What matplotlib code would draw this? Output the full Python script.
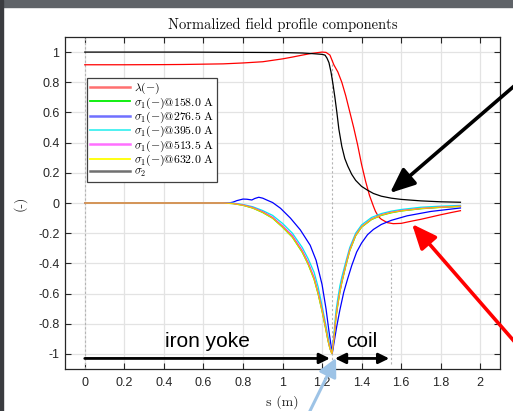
import matplotlib
matplotlib.use('Agg')
import matplotlib.pyplot as plt
from matplotlib.patches import Rectangle, FancyArrowPatch

# ---------------- data ----------------
s_lambda = [0, 0.2, 0.4, 0.5, 0.6, 0.7, 0.8, 0.9, 1.0, 1.05, 1.1, 1.15, 1.2, 1.22,
            1.24, 1.26, 1.28, 1.3, 1.32, 1.34, 1.36, 1.38, 1.4, 1.42, 1.44, 1.46,
            1.47, 1.48, 1.49, 1.5, 1.53, 1.56, 1.6, 1.65, 1.7, 1.75, 1.8, 1.85, 1.9]
lam = [0.916, 0.916, 0.917, 0.918, 0.92, 0.922, 0.928, 0.936, 0.955, 0.967, 0.98,
       0.992, 1.0, 0.998, 0.98, 0.915, 0.868, 0.8, 0.71, 0.605, 0.5, 0.385, 0.255,
       0.145, 0.05, -0.022, -0.055, -0.078, -0.096, -0.108, -0.13, -0.137, -0.135,
       -0.121, -0.108, -0.093, -0.078, -0.064, -0.051]

s_sigma1 = [0, 0.6, 0.7, 0.75, 0.8, 0.85, 0.9, 0.95, 1.0, 1.05, 1.1, 1.13, 1.16,
            1.18, 1.2, 1.215, 1.23, 1.24, 1.25, 1.26, 1.27, 1.28, 1.29, 1.3, 1.32,
            1.34, 1.37, 1.4, 1.45, 1.5, 1.55, 1.6, 1.7, 1.8, 1.9]
sig1_158 = [0, 0, 0, -0.004, -0.015, -0.034, -0.063, -0.101, -0.16, -0.227, -0.327,
            -0.407, -0.507, -0.602, -0.717, -0.812, -0.912, -0.966, -0.998, -0.902,
            -0.762, -0.672, -0.592, -0.527, -0.417, -0.317, -0.217, -0.16, -0.11,
            -0.082, -0.065, -0.053, -0.038, -0.029, -0.023]
sig1_395 = [0, 0, 0, -0.001, -0.01, -0.025, -0.05, -0.082, -0.135, -0.2, -0.295,
            -0.37, -0.46, -0.555, -0.68, -0.78, -0.88, -0.955, -0.995, -0.87,
            -0.72, -0.63, -0.55, -0.49, -0.39, -0.295, -0.2, -0.145, -0.096,
            -0.07, -0.054, -0.043, -0.028, -0.021, -0.016]
sig1_513 = [0, 0, 0, -0.003, -0.013, -0.03, -0.058, -0.095, -0.152, -0.217, -0.316,
            -0.395, -0.495, -0.59, -0.705, -0.8, -0.905, -0.962, -0.997, -0.895,
            -0.755, -0.665, -0.585, -0.52, -0.41, -0.31, -0.212, -0.156, -0.106,
            -0.078, -0.061, -0.05, -0.036, -0.027, -0.021]
sig1_632 = [0, 0, 0, -0.004, -0.015, -0.033, -0.062, -0.1, -0.158, -0.225, -0.325,
            -0.405, -0.505, -0.6, -0.715, -0.81, -0.91, -0.965, -0.998, -0.9,
            -0.76, -0.67, -0.59, -0.525, -0.415, -0.315, -0.215, -0.158, -0.108,
            -0.08, -0.063, -0.052, -0.037, -0.028, -0.022]

s_blue = [0, 0.6, 0.7, 0.73, 0.75, 0.77, 0.8, 0.82, 0.845, 0.86, 0.88, 0.9, 0.92,
          0.95, 0.99, 1.04, 1.09, 1.14, 1.17, 1.2, 1.22, 1.235, 1.245, 1.252, 1.26,
          1.274, 1.29, 1.31, 1.33, 1.35, 1.375, 1.4, 1.43, 1.46, 1.5, 1.55, 1.63,
          1.75, 1.9]
sig1_276 = [0, 0, 0, 0, 0.006, 0.016, 0.026, 0.025, 0.02, 0.03, 0.038, 0.032, 0.02,
            0.003, -0.035, -0.1, -0.178, -0.28, -0.38, -0.54, -0.70, -0.85, -0.94,
            -0.995, -0.93, -0.82, -0.71, -0.59, -0.5, -0.415, -0.325, -0.265, -0.21,
            -0.175, -0.142, -0.115, -0.085, -0.056, -0.033]

s_sigma2 = [0, 0.5, 1.0, 1.1, 1.15, 1.2, 1.215, 1.225, 1.235, 1.245, 1.255, 1.265,
            1.275, 1.285, 1.3, 1.315, 1.33, 1.35, 1.37, 1.4, 1.43, 1.46, 1.5, 1.55,
            1.6, 1.7, 1.8, 1.9]
sig2 = [1.0, 1.0, 0.997, 0.994, 0.99, 0.985, 0.98, 0.96, 0.93, 0.87, 0.79, 0.70,
        0.6, 0.49, 0.375, 0.295, 0.245, 0.19, 0.15, 0.11, 0.085, 0.063, 0.045, 0.032,
        0.024, 0.014, 0.008, 0.005]

labels = [r'$\lambda(-)$', r'$\sigma_1(-)$@158.0 A', r'$\sigma_1(-)$@276.5 A',
          r'$\sigma_1(-)$@395.0 A', r'$\sigma_1(-)$@513.5 A', r'$\sigma_1(-)$@632.0 A',
          r'$\sigma_2$']

xticks = [0, 0.2, 0.4, 0.6, 0.8, 1.0, 1.2, 1.4, 1.6, 1.8, 2.0]
xticklabels = ['0', '0.2', '0.4', '0.6', '0.8', '1', '1.2', '1.4', '1.6', '1.8', '2']
yticks = [-1, -0.8, -0.6, -0.4, -0.2, 0, 0.2, 0.4, 0.6, 0.8, 1]
yticklabels = ['-1', '-0.8', '-0.6', '-0.4', '-0.2', '0', '0.2', '0.4', '0.6', '0.8', '1']

# ---------------- style ----------------
plt.rcParams['mathtext.fontset'] = 'cm'
plt.rcParams['axes.unicode_minus'] = False
plt.rcParams['font.family'] = ['Liberation Sans', 'DejaVu Sans']
SERIF = ['cmr10', 'DejaVu Serif']
AXC = '#262626'

fig = plt.figure(figsize=(5.13, 4.11), dpi=100)
ax = fig.add_axes([65 / 513, 42 / 411, 435 / 513, 332 / 411])

lw = 0.9
ax.plot(s_lambda, lam, color='#ff0000', lw=lw, label=labels[0], zorder=3)
ax.plot(s_sigma1, sig1_158, color='#00ff00', lw=lw, label=labels[1], zorder=3)
ax.plot(s_blue, sig1_276, color='#0000ff', lw=lw, label=labels[2], zorder=3)
ax.plot(s_sigma1, sig1_395, color='#00eeee', lw=lw, label=labels[3], zorder=3)
ax.plot(s_sigma1, sig1_513, color='#ff00ff', lw=lw, label=labels[4], zorder=3)
ax.plot(s_sigma1, sig1_632, color='#f2c800', lw=lw, label=labels[5], zorder=3)
ax.plot(s_sigma2, sig2, color='#000000', lw=lw, label=labels[6], zorder=3)

# vertical reference lines
ax.axvline(0, color='#b4b4b4', lw=0.8, ls=(0, (2, 2)), zorder=2)
ax.vlines(1.25, -1.07, 0.96, color='#b4b4b4', lw=0.8, ls=(0, (2, 2)), zorder=2)
ax.vlines(1.55, -1.07, -0.38, color='#b4b4b4', lw=0.8, ls=(0, (2, 2)), zorder=2)

ax.set_xlim(-0.1, 2.1)
ax.set_ylim(-1.1, 1.1)
ax.set_xticks(xticks)
ax.set_xticklabels(xticklabels)
ax.set_yticks(yticks)
ax.set_yticklabels(yticklabels)
ax.tick_params(direction='in', length=4, width=0.8, top=True, right=True,
               color=AXC, labelcolor=AXC, labelsize=9)
ax.tick_params(axis='x', pad=6)
ax.tick_params(axis='y', pad=4)
for sp in ax.spines.values():
    sp.set_color(AXC)
    sp.set_linewidth(0.9)
ax.grid(True, color='#e3e3e3', lw=0.9)
ax.set_axisbelow(True)

ax.set_title('Normalized field profile components', fontsize=10.5, family=SERIF,
             pad=6, color='#111111')
ax.set_xlabel('s (m)', fontsize=10, family=SERIF, color=AXC, labelpad=4)
ax.set_ylabel('(-)', fontsize=10, family=SERIF, color=AXC, labelpad=8)

leg = ax.legend(loc='upper left', bbox_to_anchor=(0.0506, 0.8765), borderaxespad=0,
                fancybox=False, framealpha=1, edgecolor='#404040',
                prop={'family': SERIF, 'size': 8.5}, handlelength=3.4,
                handletextpad=0.3, labelspacing=-0.08, borderpad=0.25)
leg.get_frame().set_linewidth(0.9)
leg_cols = ['#ff7070', '#00ee00', '#7070ff', '#40f0f0', '#ff70ff', '#ffff00', '#707070']
leg_lws = [1.8, 1.3, 1.8, 1.3, 1.8, 1.3, 1.8]
for ln, c, w in zip(leg.get_lines(), leg_cols, leg_lws):
    ln.set_color(c)
    ln.set_linewidth(w)

# region annotations
ax.text(0.618, -0.915, 'iron yoke', fontsize=15, ha='center', va='center',
        family=['Liberation Sans', 'DejaVu Sans'])
ax.text(1.40, -0.915, 'coil', fontsize=15, ha='center', va='center',
        family=['Liberation Sans', 'DejaVu Sans'])
ax.annotate('', xy=(1.24, -1.03), xytext=(0.0, -1.03),
            arrowprops=dict(arrowstyle='-|>,head_length=0.45,head_width=0.22',
                            lw=2.0, color='k', mutation_scale=14, shrinkA=0, shrinkB=0))
ax.annotate('', xy=(1.54, -1.03), xytext=(1.265, -1.03),
            arrowprops=dict(arrowstyle='<|-|>,head_length=0.45,head_width=0.22',
                            lw=2.0, color='k', mutation_scale=14, shrinkA=0, shrinkB=0))

# screenshot frame
fig.add_artist(Rectangle((0, 1 - 7 / 411), 1, 7 / 411, transform=fig.transFigure,
                         color='#5f6368', zorder=10))
fig.add_artist(Rectangle((0, 0), 3 / 513, 1, transform=fig.transFigure,
                         color='#3a3c40', zorder=10))

# figure-level pointer arrows
fig.add_artist(FancyArrowPatch(
    (520, 411 - 81), (390, 411 - 193), transform=None,
    arrowstyle='-|>,head_length=0.75,head_width=0.32', mutation_scale=20,
    lw=2.6, color='k', shrinkA=0, shrinkB=0, zorder=20))
fig.add_artist(FancyArrowPatch(
    (520, 411 - 348), (412, 411 - 224), transform=None,
    arrowstyle='-|>,head_length=0.75,head_width=0.32', mutation_scale=20,
    lw=2.6, color='#ff0000', shrinkA=0, shrinkB=0, zorder=20))
fig.add_artist(FancyArrowPatch(
    (307, -6), (336, 411 - 358), transform=None,
    arrowstyle='-|>,head_length=0.55,head_width=0.28', mutation_scale=20,
    lw=2.2, color='#9dc3e6', shrinkA=0, shrinkB=0, zorder=20))

fig.savefig('out.png', dpi=100)
